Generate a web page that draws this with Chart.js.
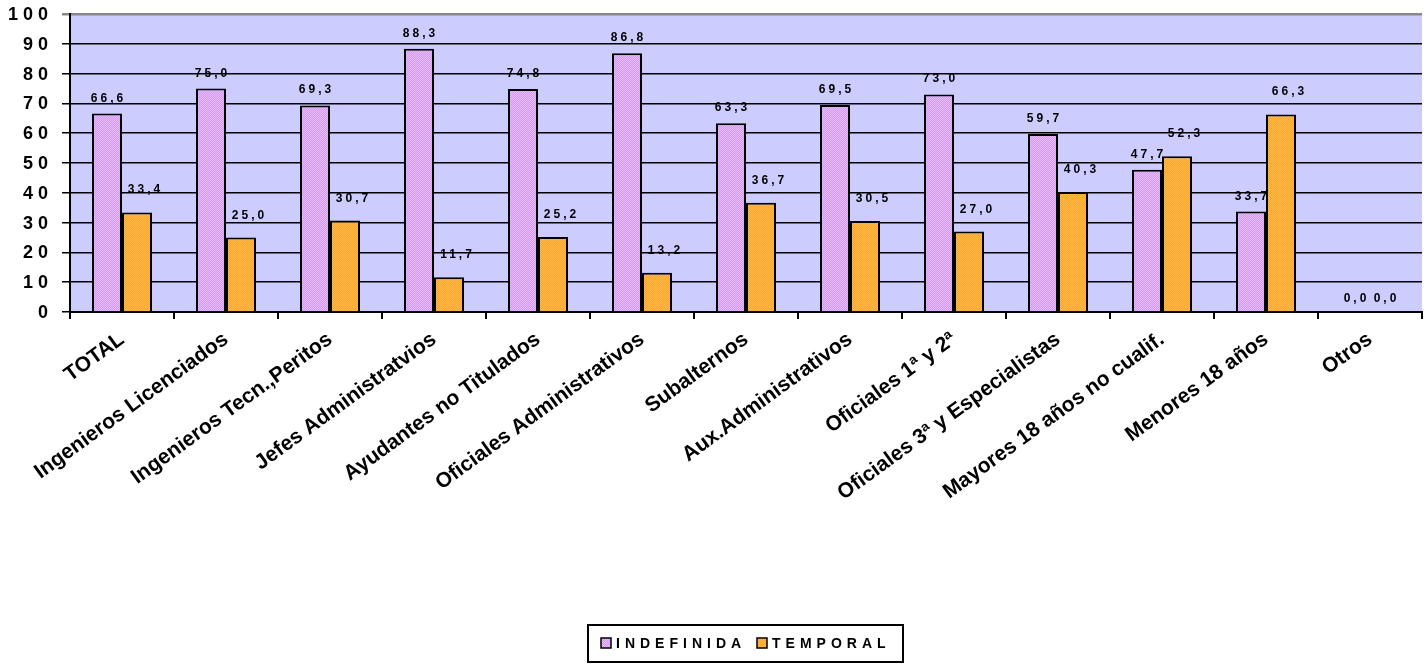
<!DOCTYPE html>
<html>
<head>
<meta charset="utf-8">
<script src="https://cdn.jsdelivr.net/npm/chart.js@4/dist/chart.umd.min.js"></script>
<style>
  html, body { margin: 0; padding: 0; background: #fff; }
  #wrap { width: 1427px; height: 665px; }
</style>
</head>
<body>
<div id="wrap"><canvas id="chart" width="1427" height="665"></canvas></div>
<script>
const categories = ['TOTAL', 'Ingenieros Licenciados', 'Ingenieros Tecn.,Peritos', 'Jefes Administratvios',
    'Ayudantes no Titulados', 'Oficiales Administrativos', 'Subalternos', 'Aux.Administrativos',
    'Oficiales 1ª y 2ª', 'Oficiales 3ª y Especialistas', 'Mayores 18 años no cualif.', 'Menores 18 años', 'Otros'];
const seriesNames = ['INDEFINIDA', 'TEMPORAL'];
const indefinida = [66.6, 75.0, 69.3, 88.3, 74.8, 86.8, 63.3, 69.5, 73.0, 59.7, 47.7, 33.7, 0.0];
const temporal = [33.4, 25.0, 30.7, 11.7, 25.2, 13.2, 36.7, 30.5, 27.0, 40.3, 52.3, 66.3, 0.0];
const yTicks = { min: 0, max: 100, step: 10 };

const FONT = "'Liberation Sans', Arial, sans-serif";

// dotted fill like the old Excel bars
function makePattern(c1, c2) {
    const p = document.createElement('canvas');
    p.width = 2; p.height = 2;
    const g = p.getContext('2d');
    g.fillStyle = c1; g.fillRect(0, 0, 2, 2);
    g.fillStyle = c2; g.fillRect(0, 0, 1, 1); g.fillRect(1, 1, 1, 1);
    return g.createPattern(p, 'repeat');
}
const fills = [makePattern('#D29AF6', '#E4BCFF'), makePattern('#FFA526', '#FFBA4E')];

function fmt(v) {
    return v.toFixed(1).replace('.', ',');
}

// plot background
const bgPlugin = {
    id: 'plotBg',
    beforeDraw(chart) {
        const a = chart.chartArea, ctx = chart.ctx;
        ctx.save();
        ctx.fillStyle = '#CCCCFF';
        ctx.fillRect(a.left, a.top, a.right - a.left, a.bottom - a.top);
        ctx.restore();
    }
};

// y tick labels, value labels and the boxed legend
const textPlugin = {
    id: 'texts',
    afterDraw(chart) {
        const ctx = chart.ctx;
        const y = chart.scales.y;
        ctx.save();
        ctx.fillStyle = '#000';
        ctx.font = 'bold 18px ' + FONT;
        ctx.letterSpacing = '5px';
        ctx.textAlign = 'right';
        ctx.textBaseline = 'middle';
        y.ticks.forEach(t => {
            ctx.fillText(String(t.value), 53, y.getPixelForValue(t.value) + 1);
        });

        ctx.font = 'bold 12px ' + FONT;
        ctx.letterSpacing = '3px';
        ctx.textAlign = 'center';
        ctx.textBaseline = 'alphabetic';
        chart.data.datasets.forEach((ds, di) => {
            const meta = chart.getDatasetMeta(di);
            meta.data.forEach((bar, i) => {
                const v = ds.data[i];
                let dx = di === 1 ? 7 : 0;
                let dy = di === 1 ? 19 : 12;
                if (v === 0) { dx = 0; dy = 10; }
                ctx.fillText(fmt(v), bar.x + dx + 1.5, bar.y - dy);
            });
        });

        // legend
        const lx = 588, ly = 625, lw = 315, lh = 37;
        ctx.lineWidth = 2;
        ctx.strokeStyle = '#000';
        ctx.strokeRect(lx, ly, lw, lh);
        ctx.font = 'bold 14px ' + FONT;
        ctx.letterSpacing = '5px';
        ctx.textAlign = 'left';
        ctx.textBaseline = 'middle';
        const itemX = [601, 757];
        chart.data.datasets.forEach((ds, di) => {
            const x = itemX[di];
            ctx.fillStyle = ds.backgroundColor;
            ctx.fillRect(x, 638, 10, 10);
            ctx.lineWidth = 1.5;
            ctx.strokeRect(x, 638, 10, 10);
            ctx.fillStyle = '#000';
            ctx.fillText(ds.label, x + 15, 644);
        });
        ctx.restore();
    }
};

new Chart(document.getElementById('chart'), {
    type: 'bar',
    data: {
        labels: categories,
        datasets: [
            { label: seriesNames[0], data: indefinida, backgroundColor: fills[0], borderColor: '#000', borderWidth: 2 },
            { label: seriesNames[1], data: temporal, backgroundColor: fills[1], borderColor: '#000', borderWidth: 2 }
        ]
    },
    options: {
        responsive: false,
        animation: false,
        events: [],
        layout: { padding: { top: 14, right: 5, left: 0, bottom: 0 } },
        datasets: {
            bar: { categoryPercentage: 0.577, barPercentage: 1.0, borderSkipped: 'bottom' }
        },
        plugins: {
            legend: { display: false },
            tooltip: { enabled: false }
        },
        scales: {
            x: {
                afterFit(s) { s.height = 353; },
                grid: { drawOnChartArea: false, drawTicks: true, tickLength: 7, color: '#000', lineWidth: 2, offset: true },
                border: { color: '#000', width: 2 },
                ticks: {
                    autoSkip: false,
                    minRotation: 36,
                    maxRotation: 36,
                    padding: 8,
                    color: '#000',
                    font: { family: FONT, size: 21, weight: 'bold' }
                }
            },
            y: {
                min: yTicks.min,
                max: yTicks.max,
                afterFit(s) { s.width = 70; },
                grid: {
                    color: ctx => (ctx.tick && ctx.tick.value === yTicks.max) ? '#888' : '#000',
                    lineWidth: ctx => (ctx.tick && ctx.tick.value === yTicks.max) ? 2.5 : 1.5,
                    drawTicks: true,
                    tickLength: 8
                },
                border: { color: '#000', width: 2 },
                ticks: { stepSize: yTicks.step, display: false }
            }
        }
    },
    plugins: [bgPlugin, textPlugin]
});
</script>
</body>
</html>
